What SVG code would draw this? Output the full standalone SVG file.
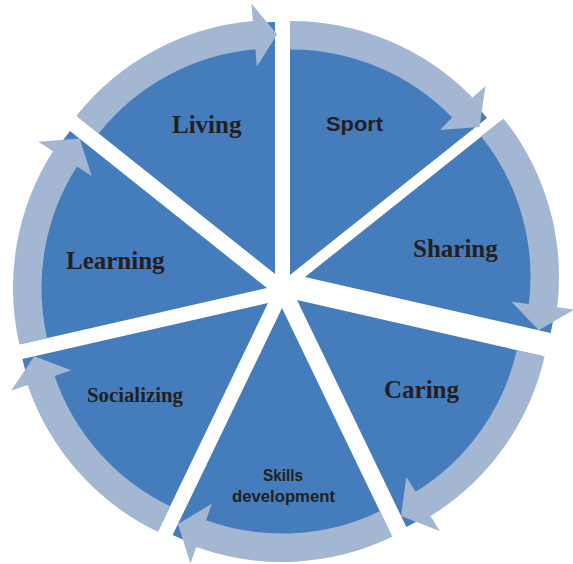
<svg xmlns="http://www.w3.org/2000/svg" width="573" height="564" viewBox="0 0 573 564">
<style>
.w{fill:#457CBC}
.a{fill:#A3B7D3}
.t{fill:#231F20;font-family:"Liberation Serif","Times New Roman",serif;font-weight:bold;font-size:25px}
.s{fill:#231F20;font-family:"Liberation Sans",Arial,sans-serif;font-weight:bold}
</style>
<rect width="573" height="564" fill="#FFFFFF"/>
<g id="node-sport">
<path class="w" d="M290,275 L290,23 A252,252 0 0 1 487.02,117.88 Z"/>
<text class="s" x="326" y="131" font-size="20" textLength="57" lengthAdjust="spacingAndGlyphs">Sport</text>
</g>
<g id="node-sharing">
<path class="w" d="M305,277 L502.02,119.88 A252,252 0 0 1 550.68,333.08 Z"/>
<text class="t" x="413" y="257">Sharing</text>
</g>
<g id="node-caring">
<path class="w" d="M297,300 L542.68,356.08 A252,252 0 0 1 406.34,527.04 Z"/>
<text class="t" x="384" y="398">Caring</text>
</g>
<g id="node-skills">
<path class="w" d="M282,308 L391.34,535.04 A252,252 0 0 1 172.66,535.04 Z"/>
<text class="s" x="283" y="481" font-size="16" text-anchor="middle" textLength="40" lengthAdjust="spacingAndGlyphs">Skills</text>
<text class="s" x="283.5" y="502" font-size="16" text-anchor="middle" textLength="103" lengthAdjust="spacingAndGlyphs">development</text>
</g>
<g id="node-socializing">
<path class="w" d="M268,303 L158.66,530.04 A252,252 0 0 1 22.32,359.08 Z"/>
<text class="t" x="87" y="402" style="font-size:20.8px">Socializing</text>
</g>
<g id="node-learning">
<path class="w" d="M267,288 L21.32,344.08 A252,252 0 0 1 69.98,130.88 Z"/>
<text class="t" x="66" y="269">Learning</text>
</g>
<g id="node-living">
<path class="w" d="M275,274 L77.98,116.88 A252,252 0 0 1 275,22 Z"/>
<text class="t" x="172" y="133">Living</text>
</g>
<g id="connectors">
<path class="a" d="M290,21 A254,254 0 0 1 472.5,97.5 L485.5,86 L479.5,127 L440,130 L452.2,117.6 A225.5,225.5 0 0 0 290,49.5 Z"/>
<path class="a" d="M503.58,118.63 A254,254 0 0 1 557.18,307.34 L574.56,309.43 L538.74,330.35 L511.51,301.85 L528.89,303.94 A225.5,225.5 0 0 0 481.30,136.40 Z"/>
<path class="a" d="M544.63,356.52 A254,254 0 0 1 430.51,516.08 L439.71,530.97 L401.02,516.01 L406.33,476.95 L415.53,491.84 A225.5,225.5 0 0 0 516.85,350.18 Z"/>
<path class="a" d="M392.21,536.85 A254,254 0 0 1 196.33,547.12 L190.43,563.60 L177.98,524.01 L211.85,503.82 L205.95,520.29 A225.5,225.5 0 0 0 379.84,511.17 Z"/>
<path class="a" d="M157.79,531.85 A254,254 0 0 1 27.64,385.11 L11.08,390.77 L34.26,356.35 L71.17,370.24 L54.61,375.90 A225.5,225.5 0 0 0 170.16,506.17 Z"/>
<path class="a" d="M19.37,344.52 A254,254 0 0 1 52.94,151.26 L38.19,141.84 L79.56,138.52 L91.71,176.02 L76.96,166.60 A225.5,225.5 0 0 0 47.15,338.18 Z"/>
<path class="a" d="M76.42,115.63 A254,254 0 0 1 252.86,20.97 L251.34,3.53 L277.09,34.26 L256.87,66.79 L255.35,49.36 A225.5,225.5 0 0 0 98.70,133.40 Z"/>
</g>
</svg>
